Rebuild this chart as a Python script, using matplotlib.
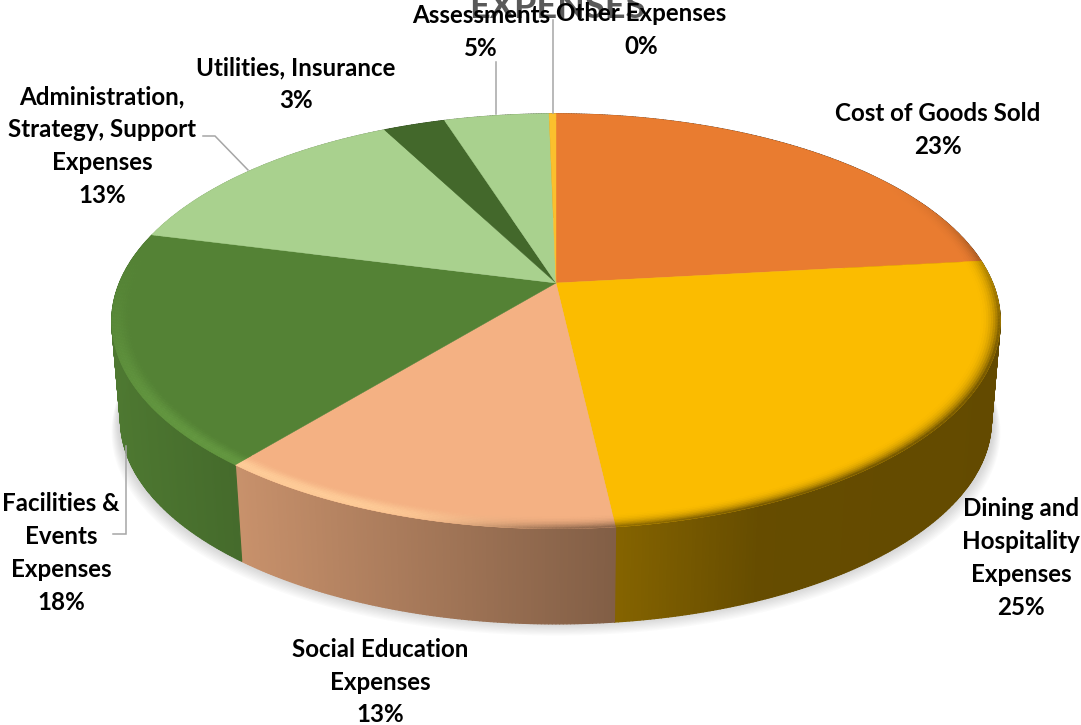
import numpy as np
import matplotlib
matplotlib.use('Agg')
import matplotlib.pyplot as plt
from matplotlib.collections import PolyCollection
from matplotlib.colors import to_rgb

title = 'EXPENSES'
names = ['Cost of Goods Sold', 'Dining and\nHospitality\nExpenses', 'Social Education\nExpenses',
         'Facilities &\nEvents\nExpenses', 'Administration,\nStrategy, Support\nExpenses',
         'Utilities, Insurance', 'Assessments', 'Other Expenses']
values = [23.2, 25.0, 12.6, 18.2, 13.4, 2.7, 4.55, 0.3]
colors = ['#e97c30', '#fbbc00', '#f4b183', '#548235', '#a9d18e', '#43682b', '#a9d18e', '#fbc02d']

# label centres in pixels
label_xy = [(938, 130), (1021, 558), (380, 682), (61, 553), (102, 146), (296, 84), (481, 32), (641, 30)]

# perspective of the disc
CX, CY = 556.0, 283.0
A, B, K = 436.6, 200.4, 0.1847
DEPTH_SCALE, DEPTH_DY = 0.98, 100.0

fig = plt.figure(figsize=(10.81, 7.25), dpi=100)
ax = fig.add_axes([0, 0, 1, 1])
ax.set_xlim(0, 1081)
ax.set_ylim(725, 0)
ax.axis('off')


def top_xy(theta, r=1.0):
    # theta in degrees, clockwise from twelve o'clock
    t = np.radians(theta)
    X, Y = r * np.sin(t), r * np.cos(t)
    d = 1 + K * Y
    return CX + A * X / d, CY - B * Y / d


def low_xy(theta):
    x, y = top_xy(theta)
    return CX + (x - CX) * DEPTH_SCALE, CY + (y - CY) * DEPTH_SCALE + DEPTH_DY


def smooth(a, b, v):
    u = np.clip((v - a) / (b - a), 0, 1)
    return u * u * (3 - 2 * u)


def wall_shade(x):
    return np.interp(x, [110, 240, 617, 760, 1000], [0.93, 0.82, 0.53, 0.405, 0.395])


shares = np.array(values) / sum(values) * 360
edges = np.concatenate([[0], np.cumsum(shares)])

# soft shadow under the disc
th = np.linspace(0, 360, 361)
for i in range(14):
    lx, ly = low_xy(th)
    grow = 1 + 0.0016 * i
    ax.fill(CX + (lx - CX) * grow, ly + 1.2 * i - 4, color='#7f7f7f', alpha=0.03, lw=0, zorder=1)

# side wall, shaded left to right
for i, col in enumerate(colors):
    base = np.array(to_rgb(col))
    t = np.arange(edges[i], edges[i + 1] + 0.4, 0.4)
    t[-1] = edges[i + 1]
    xa, ya = top_xy(t)
    xb, yb = low_xy(t)
    quads, fc = [], []
    for j in range(len(t) - 1):
        quads.append([(xa[j], ya[j]), (xa[j + 1], ya[j + 1]), (xb[j + 1], yb[j + 1]), (xb[j], yb[j])])
        fc.append(base * wall_shade((xa[j] + xb[j]) / 2))
    ax.add_collection(PolyCollection(quads, facecolors=fc, edgecolors=fc, linewidths=0.9, zorder=2))

# flat top of each slice
for i, col in enumerate(colors):
    t = np.linspace(edges[i], edges[i + 1], 120)
    x, y = top_xy(t)
    ax.fill(np.r_[CX, x], np.r_[CY, y], color=col, lw=0.3, zorder=3)

# rounded rim: dark towards the right, lit along the lower left
radii = np.linspace(0.955, 1.0, 10)
for i, col in enumerate(colors):
    base = np.array(to_rgb(col))
    t = np.arange(edges[i], edges[i + 1] + 0.4, 0.4)
    t[-1] = edges[i + 1]
    quads, fc = [], []
    for j in range(len(t) - 1):
        tm = (t[j] + t[j + 1]) / 2
        dark = smooth(55, 115, tm) * (1 - smooth(178, 200, tm))
        light = smooth(178, 205, tm) * (1 - smooth(225, 285, tm))
        xm, _ = top_xy(tm)
        dark_col = base * wall_shade(xm)
        light_col = np.clip(base * 1.13 + 0.02, 0, 1)
        for k in range(len(radii) - 1):
            u = (k + 0.5) / (len(radii) - 1)
            w_dark = dark * u ** 2.4
            w_light = light * np.sin(np.pi * min(u * 0.62, 1)) ** 2
            c = base * (1 - w_dark) + dark_col * w_dark
            c = c * (1 - w_light) + light_col * w_light
            x0, y0 = top_xy(t[j], radii[k])
            x1, y1 = top_xy(t[j + 1], radii[k])
            x2, y2 = top_xy(t[j + 1], radii[k + 1])
            x3, y3 = top_xy(t[j], radii[k + 1])
            quads.append([(x0, y0), (x1, y1), (x2, y2), (x3, y3)])
            fc.append(c)
    ax.add_collection(PolyCollection(quads, facecolors=fc, edgecolors=fc, linewidths=0.3, zorder=4))

# leader lines
leaders = [([496, 496], [62, 114]), ([553, 553], [20, 113]),
           ([203, 215, 248], [136, 136, 170]), ([126, 126, 113], [446, 534, 534])]
for lx, ly in leaders:
    ax.plot(lx, ly, color='#a6a6a6', lw=1.1, zorder=5, solid_joinstyle='miter')

font = 'Lato'
ax.text(557, 18, title, ha='center', va='baseline', color='#595959', family=font,
        weight='bold', fontsize=26, zorder=6)
for name, v, (x, y) in zip(names, values, label_xy):
    ax.text(x, y, name + '\n' + '%d%%' % round(v), ha='center', va='center', color='black',
            family=font, weight='bold', fontsize=17.4, linespacing=1.52, zorder=7)

fig.savefig('out.png', dpi=100)
